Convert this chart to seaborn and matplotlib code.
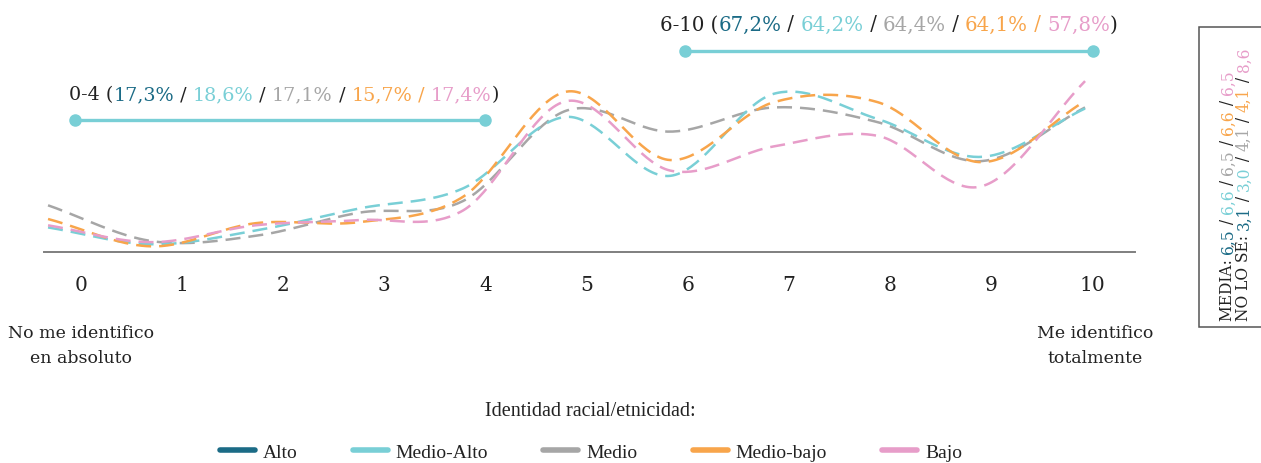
import numpy as np
import pandas as pd
import matplotlib
matplotlib.use("Agg")
import matplotlib.pyplot as plt
from matplotlib.lines import Line2D
from matplotlib.patches import Rectangle
import seaborn as sns

# ---------------- data ----------------
scale_points = list(range(11))
tick_labels = [str(i) for i in scale_points]
groups = ["Alto", "Medio-Alto", "Medio", "Medio-bajo", "Bajo"]
colors = {"Alto": "#1b6b86", "Medio-Alto": "#79cfd6", "Medio": "#a6a6a6",
          "Medio-bajo": "#f8a54b", "Bajo": "#e79dc9"}

# % of respondents by point on the 0-10 scale (Alto is not drawn in the reference)
alto = [np.nan] * 11
medio_alto = [3.0, 1.4, 2.7, 4.8, 6.7, 13.5, 7.9, 15.7, 13.3, 9.7, 14.3]
medio = [5.1, 1.7, 2.2, 4.4, 5.5, 14.1, 12.1, 14.4, 13.0, 9.3, 14.4]
medio_bajo = [3.8, 1.2, 3.4, 3.5, 5.9, 15.9, 9.4, 14.9, 14.9, 9.2, 15.0]
bajo = [3.2, 1.6, 3.2, 3.7, 4.6, 15.0, 8.4, 10.7, 11.7, 6.9, 16.9]

pct_0_4 = ["17,3%", "18,6%", "17,1%", "15,7%", "17,4%"]
pct_6_10 = ["67,2%", "64,2%", "64,4%", "64,1%", "57,8%"]
media = ["6,5", "6,6", "6,5", "6,6", "6,5"]
no_lo_se = ["3,1", "3,0", "4,1", "4,1", "8,6"]

left_label = "No me identifico\nen absoluto"
right_label = "Me identifico\ntotalmente"
legend_title = "Identidad racial/etnicidad:"

# ---------------- helpers ----------------
W, H = 1261, 464
def fx(px):
    return px / W
def fy(py):
    return 1 - py / H

def smooth(pos, vals, n=40):
    p = np.asarray(vals, float)
    m = np.gradient(p)
    xs, ys = [], []
    for i in range(len(p) - 1):
        t = np.linspace(0, 1, n, endpoint=False)
        h00 = 2 * t**3 - 3 * t**2 + 1
        h10 = t**3 - 2 * t**2 + t
        h01 = -2 * t**3 + 3 * t**2
        h11 = t**3 - t**2
        ys.append(h00 * p[i] + h10 * m[i] + h01 * p[i + 1] + h11 * m[i + 1])
        xs.append(pos[i] + t * (pos[i + 1] - pos[i]))
    xs.append([pos[-1]]); ys.append([p[-1]])
    return np.concatenate(xs), np.concatenate(ys)

sns.set_style("white")
plt.rcParams["font.family"] = ["DejaVu Serif", "DejaVu Sans"]
TXT = "#222222"
SERIF = "DejaVu Serif"
COND = "Liberation Serif"

fig = plt.figure(figsize=(W / 100, H / 100), dpi=100)
ax = fig.add_axes([fx(44), fy(253), fx(1135) - fx(44), fy(15) - fy(253)])

series = {"Alto": alto, "Medio-Alto": medio_alto, "Medio": medio,
          "Medio-bajo": medio_bajo, "Bajo": bajo}
pos = -0.326 + 1.0257 * np.arange(len(scale_points))
rows = []
for g in ["Medio", "Medio-Alto", "Medio-bajo", "Bajo"]:
    xs, ys = smooth(pos, series[g])
    rows.append(pd.DataFrame({"x": xs, "y": ys, "grupo": g}))
df = pd.concat(rows, ignore_index=True)

sns.lineplot(data=df, x="x", y="y", hue="grupo", palette=colors, ax=ax,
             legend=False, sort=False, estimator=None, linewidth=1.8)
for ln in ax.lines:
    ln.set_dashes([6, 3.2])

ax.set_xlim(-0.366, 10.425)
ax.set_ylim(0.665, 23.275)
ax.set_xticks(scale_points)
ax.set_xticklabels(tick_labels)
ax.set_yticks([])
ax.set_xlabel(""); ax.set_ylabel("")
for s in ["top", "right", "left"]:
    ax.spines[s].set_visible(False)
ax.spines["bottom"].set_color("#7f7f7f")
ax.spines["bottom"].set_linewidth(1.4)
ax.tick_params(axis="x", direction="out", length=8.5, width=1.2, color="#7f7f7f",
               pad=8, labelsize=14.5, labelcolor=TXT)
for lab in ax.get_xticklabels():
    lab.set_family(SERIF)

# end labels
fig.text(fx(81), fy(346), left_label, ha="center", va="center", fontsize=12.5,
         family=SERIF, color=TXT, linespacing=1.6)
fig.text(fx(1095), fy(346), right_label, ha="center", va="center", fontsize=12.5,
         family=SERIF, color=TXT, linespacing=1.6)

# multicolour headline texts
def chain(x, y, pieces, size, rotation=0):
    t = None
    for txt, col in pieces:
        if t is None:
            if rotation:
                t = fig.text(x, y, txt, color=col, fontsize=size, family=SERIF,
                             ha="center", va="bottom", rotation=90)
            else:
                t = fig.text(x, y, txt, color=col, fontsize=size, family=SERIF,
                             ha="left", va="center")
        else:
            if rotation:
                t = fig.add_artist(plt.Annotation(txt, xy=(0.5, 1), xycoords=t,
                                                  ha="center", va="bottom",
                                                  rotation=90, color=col,
                                                  fontsize=size, family=SERIF))
            else:
                t = fig.add_artist(plt.Annotation(txt, xy=(1, 0.5), xycoords=t,
                                                  ha="left", va="center",
                                                  color=col, fontsize=size,
                                                  family=SERIF))
    return t

def pct_pieces(head, vals):
    cols = [colors[g] for g in groups]
    pcs = [(head + " (", TXT)]
    for i, (v, c) in enumerate(zip(vals, cols)):
        pcs.append((v, c))
        if i < len(vals) - 1:
            pcs.append((" / ", colors["Medio-bajo"] if i == 3 else TXT))
    pcs.append((")", TXT))
    return pcs

chain(fx(69), fy(95), pct_pieces("0-4", pct_0_4), 13.8)
chain(fx(660), fy(25), pct_pieces("6-10", pct_6_10), 14.2)

# range brackets
br = colors["Medio-Alto"]
for (x0, x1, yy) in [(75, 485, 121), (685, 1093, 52)]:
    fig.add_artist(Line2D([fx(x0), fx(x1)], [fy(yy), fy(yy)], color=br, lw=2.4,
                          marker="o", markersize=8, transform=fig.transFigure))

# right box with means
fig.add_artist(Rectangle((fx(1199), fy(328)), fx(1262) - fx(1199), fy(28) - fy(328),
                         transform=fig.transFigure, fill=False, edgecolor="#555555",
                         lw=1.1))
def stat_pieces(head, vals):
    cols = [colors[g] for g in groups]
    pcs = [(head, TXT)]
    for i, (v, c) in enumerate(zip(vals, cols)):
        pcs.append((v, c))
        if i < len(vals) - 1:
            pcs.append((" / ", TXT))
    return pcs
chain(fx(1228), fy(321), stat_pieces("MEDIA: ", media), 11.2, rotation=90)
chain(fx(1244), fy(321), stat_pieces("NO LO SÉ: ", no_lo_se), 11.2, rotation=90)

# legend
fig.text(fx(590), fy(412), legend_title, ha="center", va="center", fontsize=14.5,
         family=COND, color=TXT)
handles = [Line2D([0], [0], color=colors[g], lw=4, solid_capstyle="round") for g in groups]
fig.legend(handles, groups, loc="center", bbox_to_anchor=(fx(591), fy(453)), ncol=5,
           frameon=False, handlelength=1.8, handletextpad=0.4, columnspacing=2.85,
           prop={"family": COND, "size": 14}, labelcolor=TXT)

fig.savefig("out.png", dpi=100)
